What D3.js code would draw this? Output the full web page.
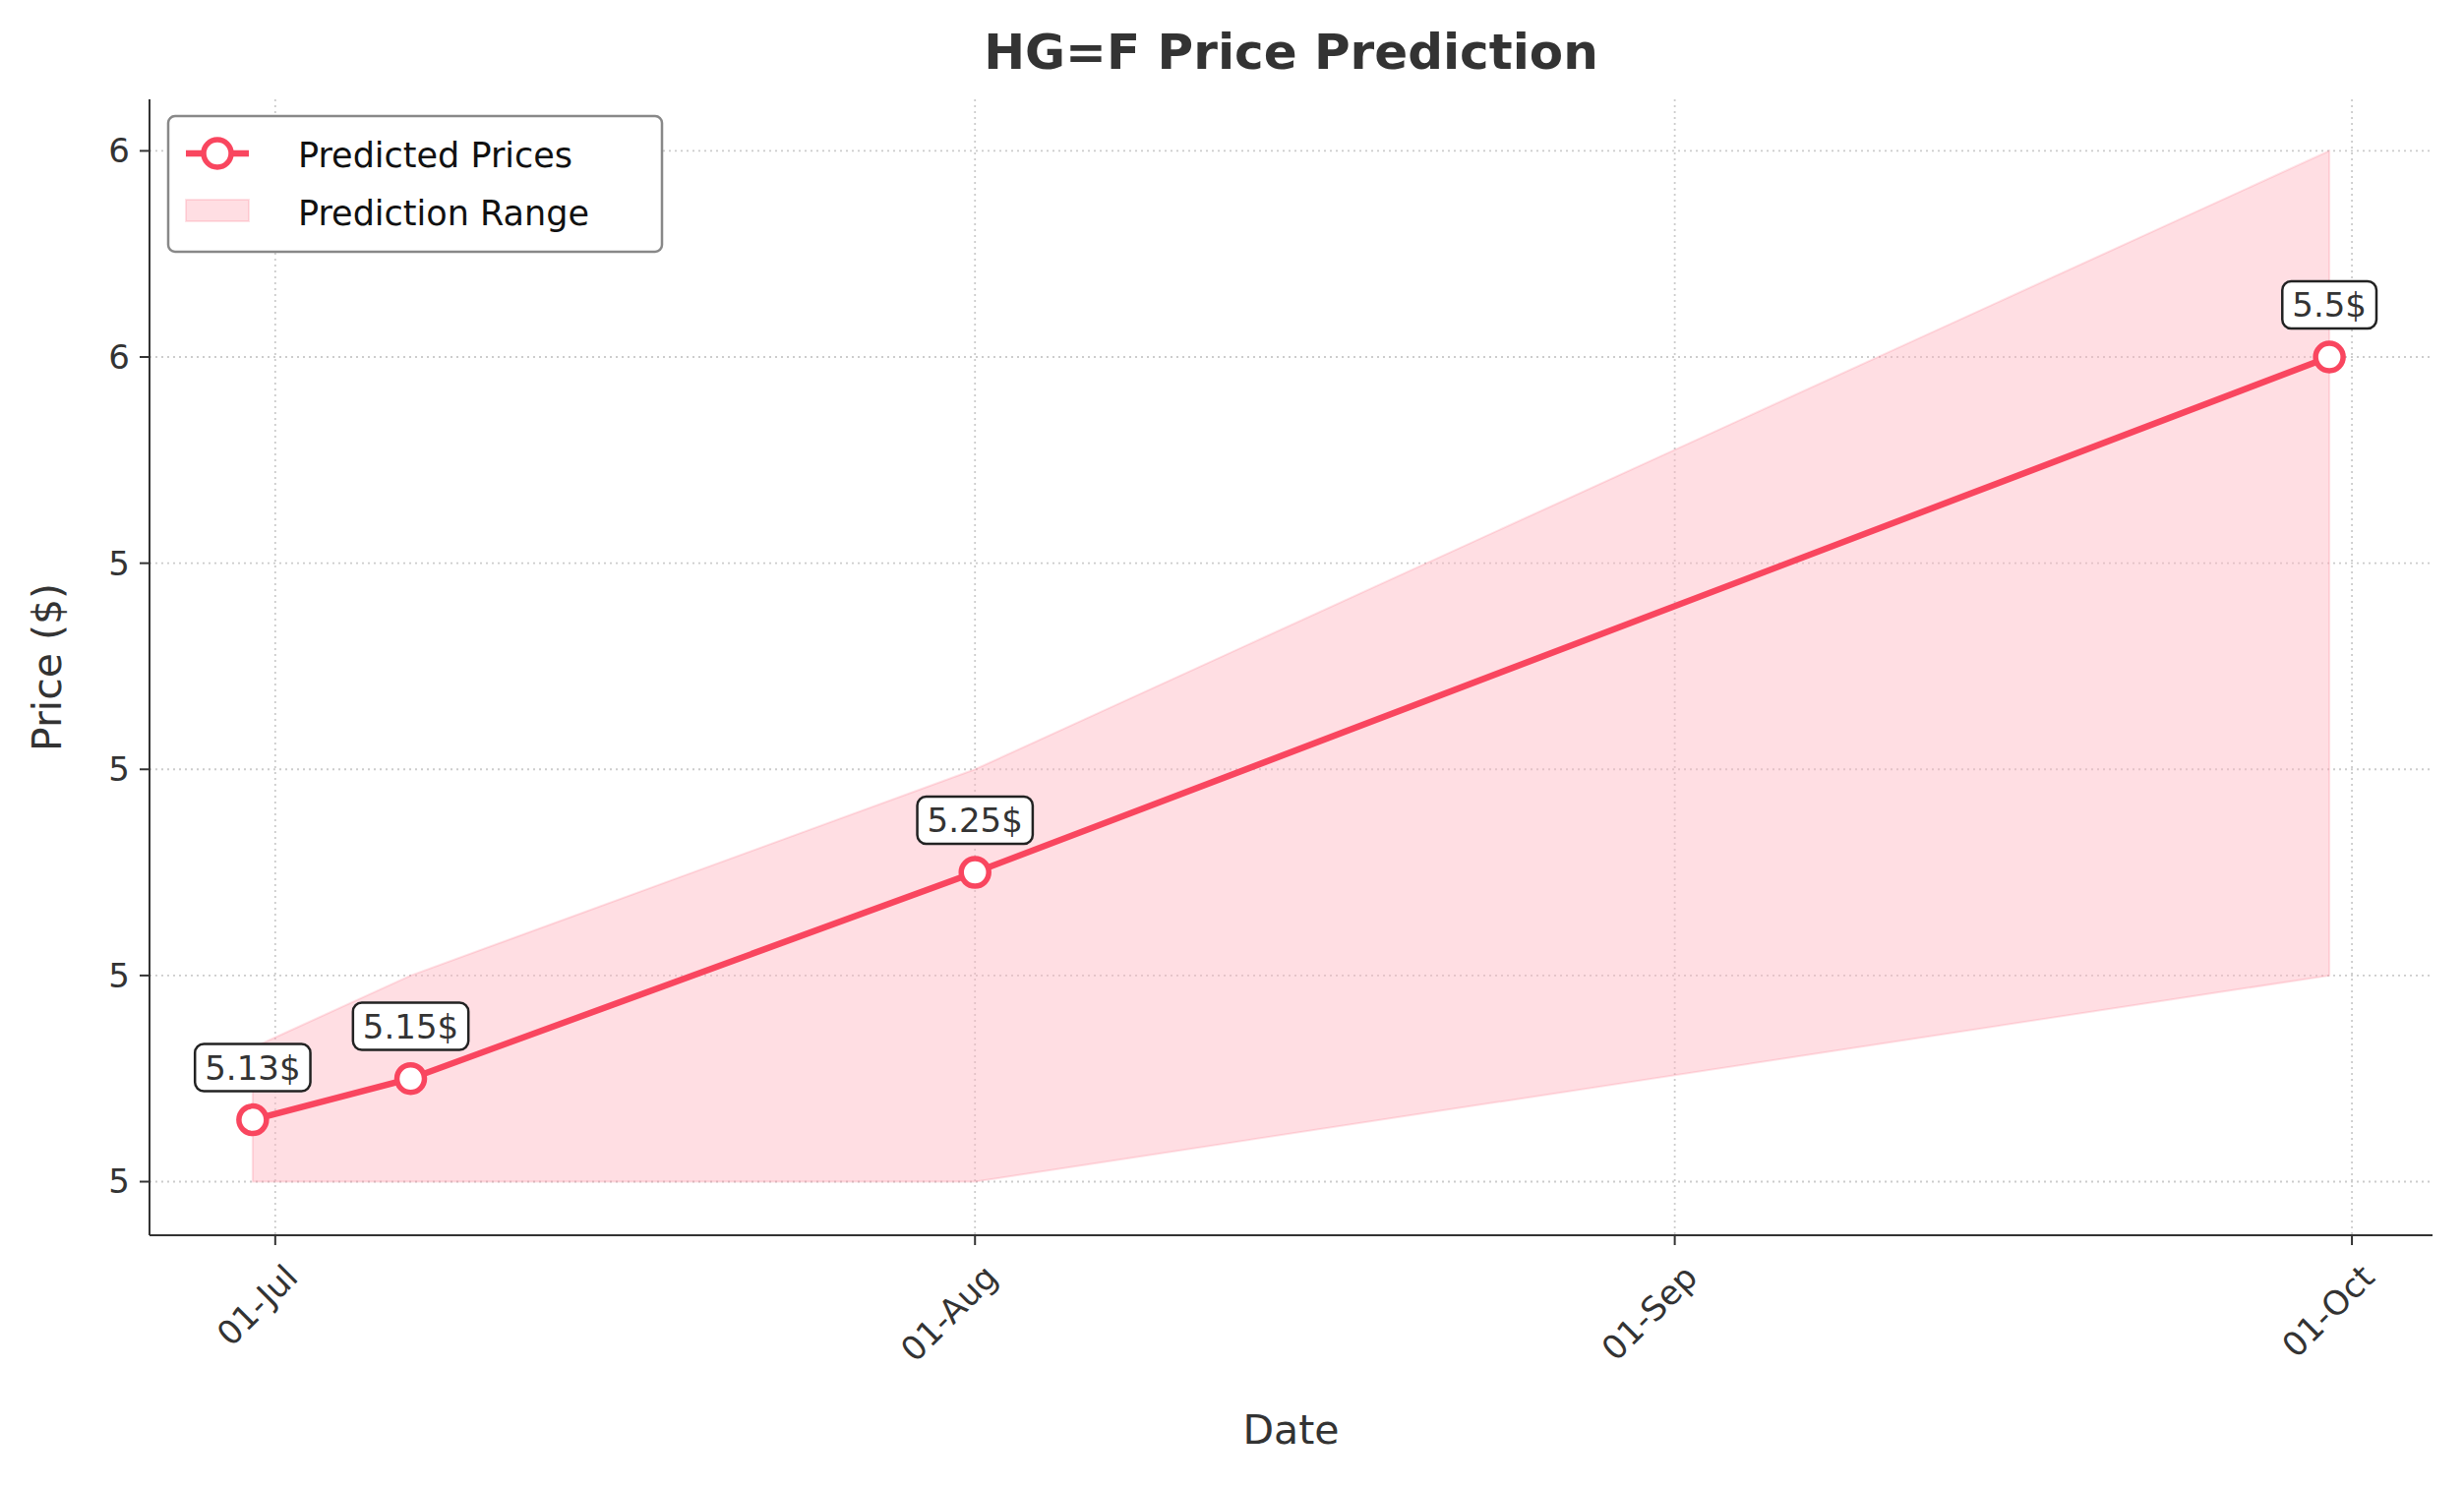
<!DOCTYPE html>
<html><head><meta charset="utf-8">
<script src="https://cdn.jsdelivr.net/npm/d3@7"></script>
<style>body{margin:0;background:#fff}svg{font-family:"DejaVu Sans",sans-serif}</style>
</head><body><svg id="c" width="2505" height="1513"></svg>
<script>
const dates = ["2024-06-30","2024-07-07","2024-08-01","2024-09-30"];
const predicted = [5.13,5.15,5.25,5.5];
const lower = [5.1,5.1,5.1,5.2];
const upper = [5.165,5.2,5.3,5.6];
const labels = ["5.13$","5.15$","5.25$","5.5$"];
const yTicks = [5.1,5.2,5.3,5.4,5.5,5.6];
const yTickLabels = ["5","5","5","5","6","6"];
const xTicks = ["2024-07-01","2024-08-01","2024-09-01","2024-10-01"];
const xTickLabels = ["01-Jul","01-Aug","01-Sep","01-Oct"];

const p = d3.timeParse("%Y-%m-%d");
const data = dates.map((d,i)=>({d:p(d),v:predicted[i],lo:lower[i],hi:upper[i],l:labels[i]}));
const svg = d3.select("#c");
const L=152,R=2473,T=101,B=1256;
const day=864e5;
const x = d3.scaleTime().domain([new Date(p("2024-07-01")-5.57*day), new Date(+p("2024-10-01")+3.57*day)]).range([L,R]);
const y = d3.scaleLinear().domain([5.074,5.625]).range([B,T]);
const col="#f9465f", txt="#333";

xTicks.forEach(t=>svg.append("line").attr("x1",x(p(t))).attr("x2",x(p(t))).attr("y1",T).attr("y2",B).attr("stroke","#ccc").attr("stroke-width",1.8).attr("stroke-dasharray","2,4"));
yTicks.forEach(t=>svg.append("line").attr("x1",L).attr("x2",R).attr("y1",y(t)).attr("y2",y(t)).attr("stroke","#ccc").attr("stroke-width",1.8).attr("stroke-dasharray","2,4"));

svg.append("path").datum(data).attr("d",d3.area().x(d=>x(d.d)).y0(d=>y(d.lo)).y1(d=>y(d.hi)))
  .attr("fill","rgba(255,182,193,0.45)").attr("stroke","rgba(249,70,95,0.15)").attr("stroke-width",2);
svg.append("path").datum(data).attr("d",d3.line().x(d=>x(d.d)).y(d=>y(d.v))).attr("fill","none").attr("stroke",col).attr("stroke-width",6.5);
svg.selectAll("circle.p").data(data).join("circle").attr("cx",d=>x(d.d)).attr("cy",d=>y(d.v)).attr("r",14).attr("fill","#fff").attr("stroke",col).attr("stroke-width",5.5);

data.forEach(d=>{
  const g=svg.append("g").attr("transform",`translate(${x(d.d)},${y(d.v)-53})`);
  const t=g.append("text").attr("text-anchor","middle").attr("dy","0.35em").attr("font-size",34).attr("fill",txt).text(d.l);
  const bb=t.node().getBBox();
  g.insert("rect","text").attr("x",bb.x-10).attr("y",bb.y-4).attr("width",bb.width+20).attr("height",bb.height+8).attr("rx",9).attr("fill","#fff").attr("stroke","#222").attr("stroke-width",2.5);
});

svg.append("line").attr("x1",L).attr("x2",L).attr("y1",T).attr("y2",B).attr("stroke",txt).attr("stroke-width",2);
svg.append("line").attr("x1",L).attr("x2",R).attr("y1",B).attr("y2",B).attr("stroke",txt).attr("stroke-width",2);
yTicks.forEach((t,i)=>{
  svg.append("line").attr("x1",L-10).attr("x2",L).attr("y1",y(t)).attr("y2",y(t)).attr("stroke",txt).attr("stroke-width",2);
  svg.append("text").attr("x",L-20).attr("y",y(t)).attr("dy","0.35em").attr("text-anchor","end").attr("font-size",34).attr("fill",txt).text(yTickLabels[i]);
});
xTicks.forEach((t,i)=>{
  const xx=x(p(t));
  svg.append("line").attr("x1",xx).attr("x2",xx).attr("y1",B).attr("y2",B+10).attr("stroke",txt).attr("stroke-width",2);
  svg.append("text").attr("transform",`translate(${xx+8},${B+28}) rotate(-45)`).attr("text-anchor","end").attr("dy","0.7em").attr("font-size",34).attr("fill",txt).text(xTickLabels[i]);
});
svg.append("text").attr("x",(L+R)/2).attr("y",1468).attr("text-anchor","middle").attr("font-size",41).attr("fill",txt).text("Date");
svg.append("text").attr("transform",`translate(62,${(T+B)/2}) rotate(-90)`).attr("text-anchor","middle").attr("font-size",41).attr("fill",txt).text("Price ($)");
svg.append("text").attr("x",(L+R)/2).attr("y",70).attr("text-anchor","middle").attr("font-size",50).attr("font-weight","bold").attr("fill",txt).text("HG=F Price Prediction");

const lg=svg.append("g").attr("transform","translate(171,118)");
lg.append("rect").attr("width",502).attr("height",138).attr("rx",7).attr("fill","#fff").attr("stroke","#888").attr("stroke-width",2.5);
lg.append("line").attr("x1",18).attr("x2",82).attr("y1",38).attr("y2",38).attr("stroke",col).attr("stroke-width",6.5);
lg.append("circle").attr("cx",50).attr("cy",38).attr("r",14).attr("fill","#fff").attr("stroke",col).attr("stroke-width",5.5);
lg.append("text").attr("x",132).attr("y",40).attr("dy","0.35em").attr("font-size",35).attr("fill","#111").text("Predicted Prices");
lg.append("rect").attr("x",18).attr("y",85).attr("width",64).attr("height",22).attr("fill","rgba(255,182,193,0.45)").attr("stroke","rgba(249,70,95,0.15)").attr("stroke-width",2);
lg.append("text").attr("x",132).attr("y",99).attr("dy","0.35em").attr("font-size",35).attr("fill","#111").text("Prediction Range");
</script></body></html>
